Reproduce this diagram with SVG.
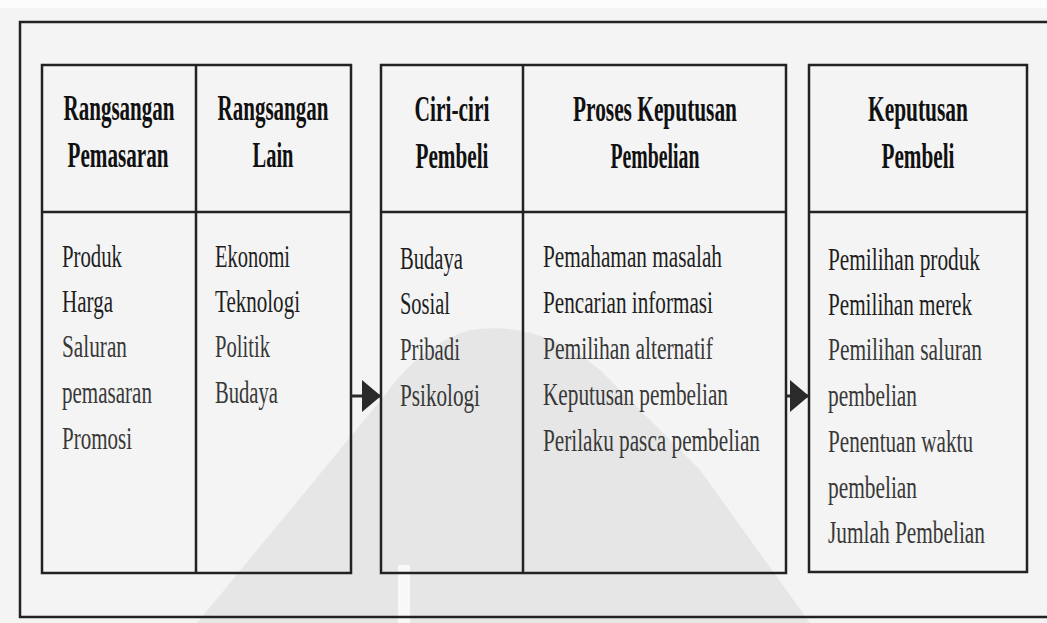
<svg xmlns="http://www.w3.org/2000/svg" width="1047" height="623" viewBox="0 0 1047 623">
<style>
.box{fill:none;stroke:#222;stroke-width:2.5}
.ln{stroke:#222;stroke-width:2.5;fill:none}
.hd{font-family:"Liberation Serif","Times New Roman",serif;font-weight:bold;font-size:35px;fill:#111;text-anchor:middle}
.bd{font-family:"Liberation Serif","Times New Roman",serif;font-size:32px;fill:#1e1e1e}
.bd2{fill:#383838}
.con{stroke:#2a2a2a;stroke-width:3;fill:none}
</style>
<defs>
<marker id="ah" markerUnits="userSpaceOnUse" viewBox="0 0 19 32" refX="19" refY="16" markerWidth="19" markerHeight="32" orient="auto">
<path d="M0,0 L19,16 L0,32 Z" fill="#2a2a2a"/>
</marker>
</defs>
<rect x="0" y="0" width="1047" height="623" fill="#f4f4f4"/>
<rect x="0" y="0" width="1047" height="8" fill="#fcfcfc"/>
<path d="M197,623 L385,395 Q420,345 470,330 Q540,320 600,370 L700,470 L810,623 Z" fill="#e6e6e6"/>
<rect x="398" y="565" width="12" height="58" fill="#f8f8f8"/>
<path class="ln" d="M1050,22 H20 V617 H1050"/>

<g id="stimuli">
<rect class="box" x="42" y="65" width="309" height="508"/>
<line class="ln" x1="42" y1="212" x2="351" y2="212"/>
<line class="ln" x1="196" y1="65" x2="196" y2="573"/>
<g transform="scale(0.6,1)">
<text class="hd" x="198.33" y="120" textLength="185" lengthAdjust="spacingAndGlyphs">Rangsangan</text>
<text class="hd" x="196.67" y="167" textLength="168.33" lengthAdjust="spacingAndGlyphs">Pemasaran</text>
<text class="hd" x="455" y="120" textLength="185" lengthAdjust="spacingAndGlyphs">Rangsangan</text>
<text class="hd" x="455" y="167" textLength="68.33" lengthAdjust="spacingAndGlyphs">Lain</text>
</g>
<g transform="scale(0.65,1)">
<text class="bd" x="95.38" y="267" textLength="92.31" lengthAdjust="spacingAndGlyphs">Produk</text>
<text class="bd" x="95.38" y="312" textLength="78.46" lengthAdjust="spacingAndGlyphs">Harga</text>
<text class="bd bd2" x="95.38" y="357" textLength="100" lengthAdjust="spacingAndGlyphs">Saluran</text>
<text class="bd bd2" x="95.38" y="403" textLength="138.46" lengthAdjust="spacingAndGlyphs">pemasaran</text>
<text class="bd bd2" x="95.38" y="449" textLength="107.69" lengthAdjust="spacingAndGlyphs">Promosi</text>
<text class="bd" x="330.77" y="267" textLength="115.38" lengthAdjust="spacingAndGlyphs">Ekonomi</text>
<text class="bd" x="330.77" y="312" textLength="130.77" lengthAdjust="spacingAndGlyphs">Teknologi</text>
<text class="bd bd2" x="330.77" y="357" textLength="84.62" lengthAdjust="spacingAndGlyphs">Politik</text>
<text class="bd bd2" x="330.77" y="403" textLength="96.92" lengthAdjust="spacingAndGlyphs">Budaya</text>
</g>
</g>

<g id="buyer">
<rect class="box" x="381" y="65" width="405" height="508"/>
<line class="ln" x1="381" y1="212" x2="786" y2="212"/>
<line class="ln" x1="523" y1="65" x2="523" y2="573"/>
<g transform="scale(0.6,1)">
<text class="hd" x="753.33" y="121" textLength="125" lengthAdjust="spacingAndGlyphs">Ciri-ciri</text>
<text class="hd" x="753.33" y="168" textLength="121.67" lengthAdjust="spacingAndGlyphs">Pembeli</text>
<text class="hd" x="1091.67" y="121" textLength="273.33" lengthAdjust="spacingAndGlyphs">Proses Keputusan</text>
<text class="hd" x="1091.67" y="168" textLength="148.33" lengthAdjust="spacingAndGlyphs">Pembelian</text>
</g>
<g transform="scale(0.65,1)">
<text class="bd" x="615.38" y="269" textLength="96.92" lengthAdjust="spacingAndGlyphs">Budaya</text>
<text class="bd" x="615.38" y="314" textLength="76.92" lengthAdjust="spacingAndGlyphs">Sosial</text>
<text class="bd bd2" x="615.38" y="360" textLength="92.31" lengthAdjust="spacingAndGlyphs">Pribadi</text>
<text class="bd bd2" x="615.38" y="406" textLength="123.08" lengthAdjust="spacingAndGlyphs">Psikologi</text>
<text class="bd" x="835.38" y="267" textLength="275.38" lengthAdjust="spacingAndGlyphs">Pemahaman masalah</text>
<text class="bd" x="835.38" y="313" textLength="261.54" lengthAdjust="spacingAndGlyphs">Pencarian informasi</text>
<text class="bd bd2" x="835.38" y="359" textLength="261.54" lengthAdjust="spacingAndGlyphs">Pemilihan alternatif</text>
<text class="bd bd2" x="835.38" y="405" textLength="284.62" lengthAdjust="spacingAndGlyphs">Keputusan pembelian</text>
<text class="bd bd2" x="835.38" y="451" textLength="333.85" lengthAdjust="spacingAndGlyphs">Perilaku pasca pembelian</text>
</g>
</g>

<g id="decision">
<rect class="box" x="809" y="65" width="218" height="507"/>
<line class="ln" x1="809" y1="212" x2="1027" y2="212"/>
<g transform="scale(0.6,1)">
<text class="hd" x="1530" y="121" textLength="166.67" lengthAdjust="spacingAndGlyphs">Keputusan</text>
<text class="hd" x="1530" y="168" textLength="121.67" lengthAdjust="spacingAndGlyphs">Pembeli</text>
</g>
<g transform="scale(0.65,1)">
<text class="bd" x="1273.85" y="270" textLength="233.85" lengthAdjust="spacingAndGlyphs">Pemilihan produk</text>
<text class="bd" x="1273.85" y="315" textLength="221.54" lengthAdjust="spacingAndGlyphs">Pemilihan merek</text>
<text class="bd bd2" x="1273.85" y="360" textLength="236.92" lengthAdjust="spacingAndGlyphs">Pemilihan saluran</text>
<text class="bd bd2" x="1273.85" y="406" textLength="136.92" lengthAdjust="spacingAndGlyphs">pembelian</text>
<text class="bd bd2" x="1273.85" y="452" textLength="223.08" lengthAdjust="spacingAndGlyphs">Penentuan waktu</text>
<text class="bd bd2" x="1273.85" y="498" textLength="136.92" lengthAdjust="spacingAndGlyphs">pembelian</text>
<text class="bd bd2" x="1273.85" y="543" textLength="241.54" lengthAdjust="spacingAndGlyphs">Jumlah Pembelian</text>
</g>
</g>

<g id="connectors">
<line class="con" x1="351" y1="396" x2="381" y2="396" marker-end="url(#ah)"/>
<line class="con" x1="786" y1="396" x2="809" y2="396" marker-end="url(#ah)"/>
</g>
</svg>
